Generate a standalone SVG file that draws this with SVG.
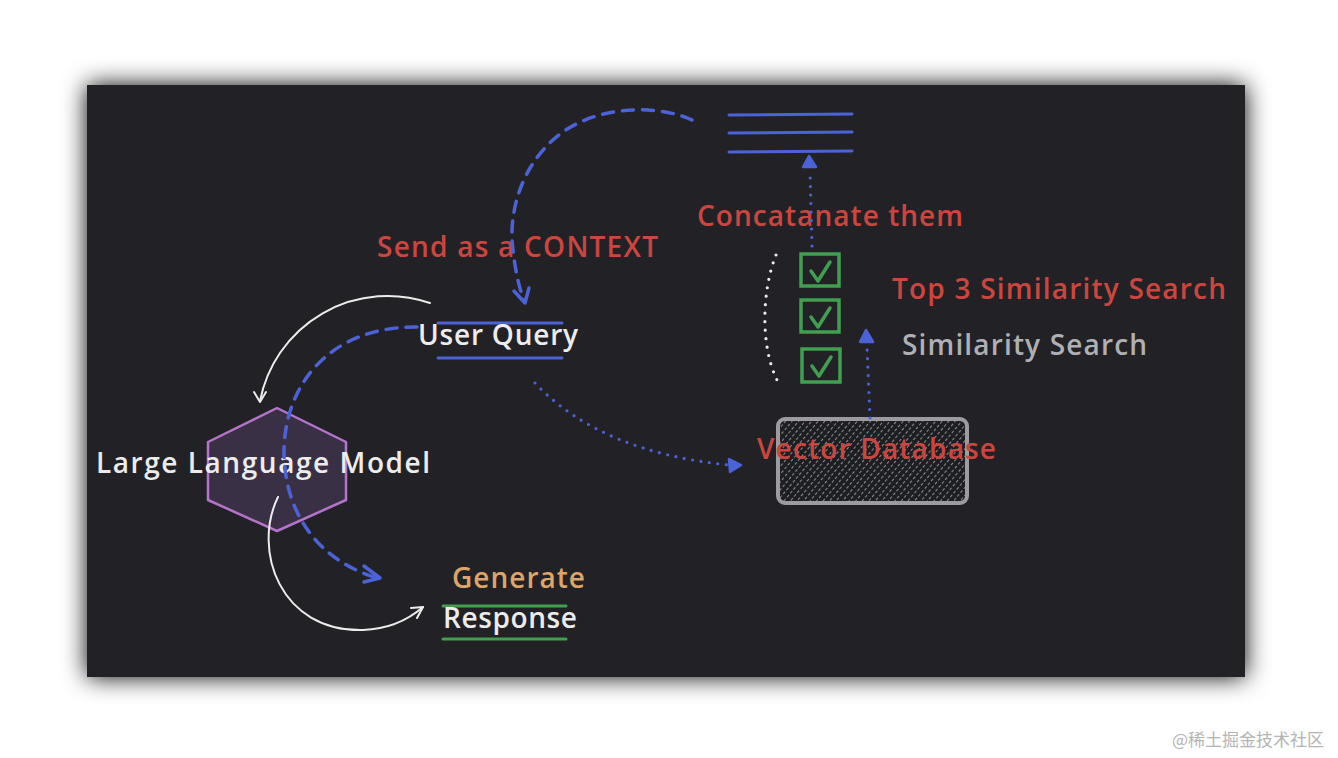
<svg xmlns="http://www.w3.org/2000/svg" width="1338" height="758" viewBox="0 0 1338 758">
  <defs>
    <filter id="shadow" x="-10%" y="-10%" width="120%" height="120%">
      <feGaussianBlur in="SourceAlpha" stdDeviation="12"/>
      <feComponentTransfer><feFuncA type="linear" slope="1"/></feComponentTransfer>
      <feMerge><feMergeNode/><feMergeNode in="SourceGraphic"/></feMerge>
    </filter>
    <pattern id="hatch" width="5" height="5" patternUnits="userSpaceOnUse" patternTransform="rotate(-50)">
      <rect width="5" height="5" fill="#1c1e21"/>
      <line x1="0" y1="2.5" x2="3" y2="2.5" stroke="#8a8a8e" stroke-width="1.1"/>
    </pattern>
    <style>
      .t { font-family: "Open Sans", "Liberation Sans", sans-serif; font-weight: 600; font-size: 28px; }
      .red { fill: #cc463f; }
      .wht { fill: #ececec; }
      .gry { fill: #b0b0b4; }
      .org { fill: #dea468; }
      .blue { stroke: #4b63d6; fill: none; stroke-linecap: round; stroke-linejoin: round; }
      .dash { stroke-width: 3.5; stroke-dasharray: 11 9; }
      .dot { stroke-width: 3.2; stroke-dasharray: 0 8.5; }
      .wl { stroke: #ececec; fill: none; stroke-width: 2; stroke-linecap: round; stroke-linejoin: round; }
      .bl { stroke: #4b63d6; stroke-width: 3; stroke-linecap: round; }
      .gl { stroke: #40a050; stroke-width: 3; stroke-linecap: round; }
      .tri { fill: #4b63d6; stroke: #4b63d6; stroke-width: 2.5; stroke-linejoin: round; }
      .box { fill: none; stroke: #40a050; stroke-width: 3.5; }
      .chk { fill: none; stroke: #40a050; stroke-width: 3.5; stroke-linecap: round; stroke-linejoin: round; }
    </style>
  </defs>

  <rect x="0" y="0" width="1338" height="758" fill="#ffffff"/>
  <rect id="panel" x="87" y="85" width="1158" height="592" fill="#212427" filter="url(#shadow)"/>

  <g id="llm">
    <polygon points="277,408 346,442 346,500 277,531 208,500 208,442" fill="#3a3045" stroke="#b573cc" stroke-width="2.5" stroke-linejoin="round"/>
    <text class="t wht" x="96" y="473" textLength="334">Large Language Model</text>
  </g>

  <g id="concat-lines">
    <line class="bl" x1="729" y1="115" x2="852" y2="114"/>
    <line class="bl" x1="729" y1="133" x2="852" y2="132"/>
    <line class="bl" x1="729" y1="152" x2="852" y2="151"/>
  </g>

  <g id="concatenate-label">
    <text class="t red" x="697" y="226" textLength="266">Concatanate them</text>
  </g>

  <g id="send-context-label">
    <text class="t red" x="377" y="257" textLength="281">Send as a CONTEXT</text>
  </g>

  <g id="checkboxes">
    <rect class="box" x="801" y="254" width="38" height="32"/>
    <path class="chk" d="M811,271 L818,281 L830,262"/>
    <rect class="box" x="801" y="300" width="38" height="32"/>
    <path class="chk" d="M811,317 L818,327 L830,308"/>
    <rect class="box" x="802" y="349" width="38" height="33"/>
    <path class="chk" d="M812,366 L819,376 L831,357"/>
  </g>

  <g id="top3-label">
    <text class="t red" x="892" y="299" textLength="334">Top 3 Similarity Search</text>
  </g>

  <g id="similarity-label">
    <text class="t gry" x="902" y="355" textLength="245">Similarity Search</text>
  </g>

  <g id="user-query">
    <line class="bl" x1="438" y1="323" x2="562" y2="323"/>
    <line class="bl" x1="438" y1="358" x2="562" y2="358"/>
    <text class="t wht" x="418" y="345" textLength="160">User Query</text>
  </g>

  <g id="vector-db">
    <rect x="778" y="419" width="189" height="84" rx="7" fill="url(#hatch)" stroke="#9c9ca0" stroke-width="4"/>
    <text class="t red" x="757" y="459" textLength="239">Vector Database</text>
  </g>

  <g id="response">
    <text class="t org" x="452" y="588" textLength="133">Generate</text>
    <line class="gl" x1="443" y1="606" x2="566" y2="606"/>
    <text class="t wht" x="443" y="628" textLength="134">Response</text>
    <line class="gl" x1="443" y1="639" x2="566" y2="639"/>
  </g>

  <g id="connectors">
    <!-- context dashed arc from concatenated lines to user query -->
    <path class="blue dash" d="M692,120 C660,105 600,104 560,134 C520,165 508,215 513,250 C516,276 520,290 524,300"/>
    <path class="blue" stroke-width="3.5" d="M514,291 L525,303 L529,288"/>
    <!-- dashed arc from user query through LLM to response -->
    <path class="blue dash" d="M417,327 C330,326 283,385 284,455 C286,525 330,565 378,578"/>
    <path class="blue" stroke-width="3.5" d="M364,566 L380,578 L364,582"/>
    <!-- dotted from user query to vector db -->
    <path class="blue dot" d="M535,383 Q600,452 729,465"/>
    <polygon class="tri" points="741,465 729,459 730,472"/>
    <!-- dotted from checkboxes to lines -->
    <path class="blue dot" d="M812,246 L810,170"/>
    <polygon class="tri" points="809,156 803,167 816,167"/>
    <!-- dotted from vector db to similarity -->
    <path class="blue dot" d="M870,418 L867,346"/>
    <polygon class="tri" points="866,330 860,342 873,342"/>
    <!-- white arc user query to LLM -->
    <path class="wl" d="M430,303 A130,130 0 0 0 260,401"/>
    <path class="wl" d="M254,392 L260,402 L266,392"/>
    <!-- white arc LLM to response -->
    <path class="wl" d="M278,497 C252,550 280,632 363,630 C390,629 408,620 423,607"/>
    <path class="wl" d="M411,608 L423,607 L417,618"/>
    <!-- white dotted bracket -->
    <path d="M776,255 C762,290 760,345 777,380" fill="none" stroke="#ececec" stroke-width="3.2" stroke-linecap="round" stroke-dasharray="0 8.5"/>
  </g>

  <text x="1172" y="746" font-family="Noto Sans CJK SC, sans-serif" font-size="17" fill="#b4b4b4">@稀土掘金技术社区</text>
</svg>
